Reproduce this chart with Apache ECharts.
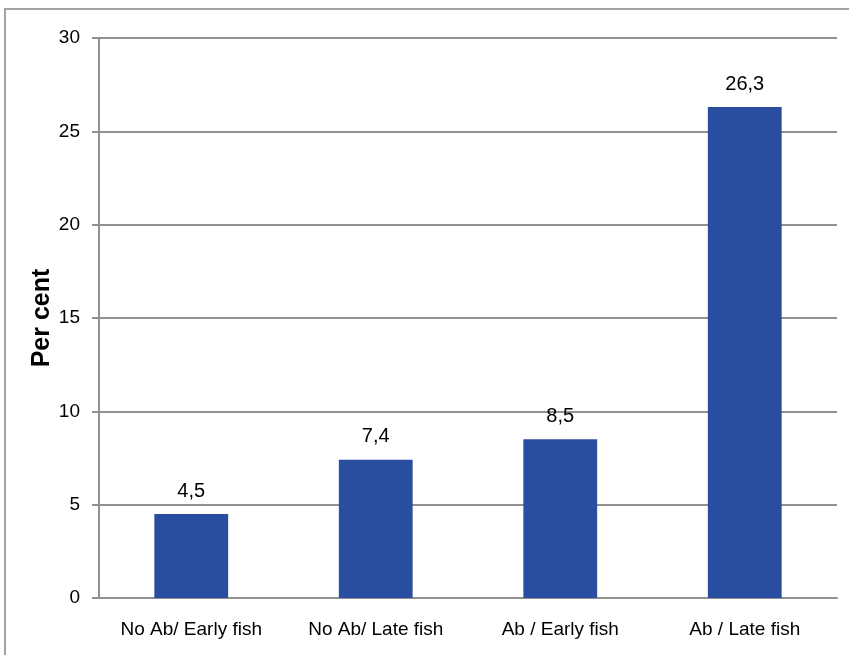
<!DOCTYPE html>
<html>
<head>
<meta charset="utf-8">
<script src="https://cdn.jsdelivr.net/npm/echarts@6/dist/echarts.min.js"></script>
<style>
  html, body { margin: 0; padding: 0; background: #fff; }
  #main { width: 849px; height: 655px; }
</style>
</head>
<body>
<div id="main"></div>
<script>
var categories = ['No Ab/ Early fish', 'No Ab/ Late fish', 'Ab / Early fish', 'Ab / Late fish'];
var percentValues = [4.5, 7.4, 8.5, 26.3];
var yTicks = [0, 5, 10, 15, 20, 25, 30];

var myChart = echarts.init(document.getElementById('main'));
var textFont = '"Liberation Sans", Arial, sans-serif';
var gridGrey = '#919191';

var option = {
    backgroundColor: '#fff',
    animation: false,
    graphic: [{
        type: 'rect',
        shape: { x: 5, y: 9, width: 900, height: 700 },
        style: { fill: 'none', stroke: '#a3a3a3', lineWidth: 2 },
        silent: true
    }],
    grid: {
        left: 99,
        right: 12,
        top: 38,
        bottom: 57
    },
    xAxis: {
        type: 'category',
        data: categories,
        axisLine: { lineStyle: { color: gridGrey, width: 2 } },
        axisTick: { show: false },
        axisLabel: {
            interval: 0,
            color: '#000',
            fontFamily: textFont,
            fontSize: 19,
            margin: 22
        }
    },
    yAxis: {
        type: 'value',
        min: yTicks[0],
        max: yTicks[yTicks.length - 1],
        interval: 5,
        name: 'Per cent',
        nameLocation: 'middle',
        nameRotate: 90,
        nameGap: 44,
        nameMoveOverlap: false,
        nameTextStyle: {
            color: '#000',
            fontFamily: textFont,
            fontWeight: 'bold',
            fontSize: 25
        },
        axisLine: { show: true, lineStyle: { color: gridGrey, width: 2 } },
        axisTick: { show: true, length: 7, lineStyle: { color: gridGrey, width: 2 } },
        axisLabel: {
            color: '#000',
            fontFamily: textFont,
            fontSize: 19,
            margin: 19
        },
        splitLine: { lineStyle: { color: gridGrey, width: 2 } }
    },
    series: [{
        type: 'bar',
        data: percentValues,
        barWidth: '40%',
        itemStyle: { color: '#294e9f' },
        label: {
            show: true,
            position: 'top',
            distance: 13,
            color: '#000',
            fontFamily: textFont,
            fontSize: 20,
            formatter: function (p) {
                return String(p.value).replace('.', ',');
            }
        }
    }]
};

myChart.setOption(option);
window.onresize = function () {
    if (myChart) {
        myChart.resize();
    }
};
</script>
</body>
</html>
